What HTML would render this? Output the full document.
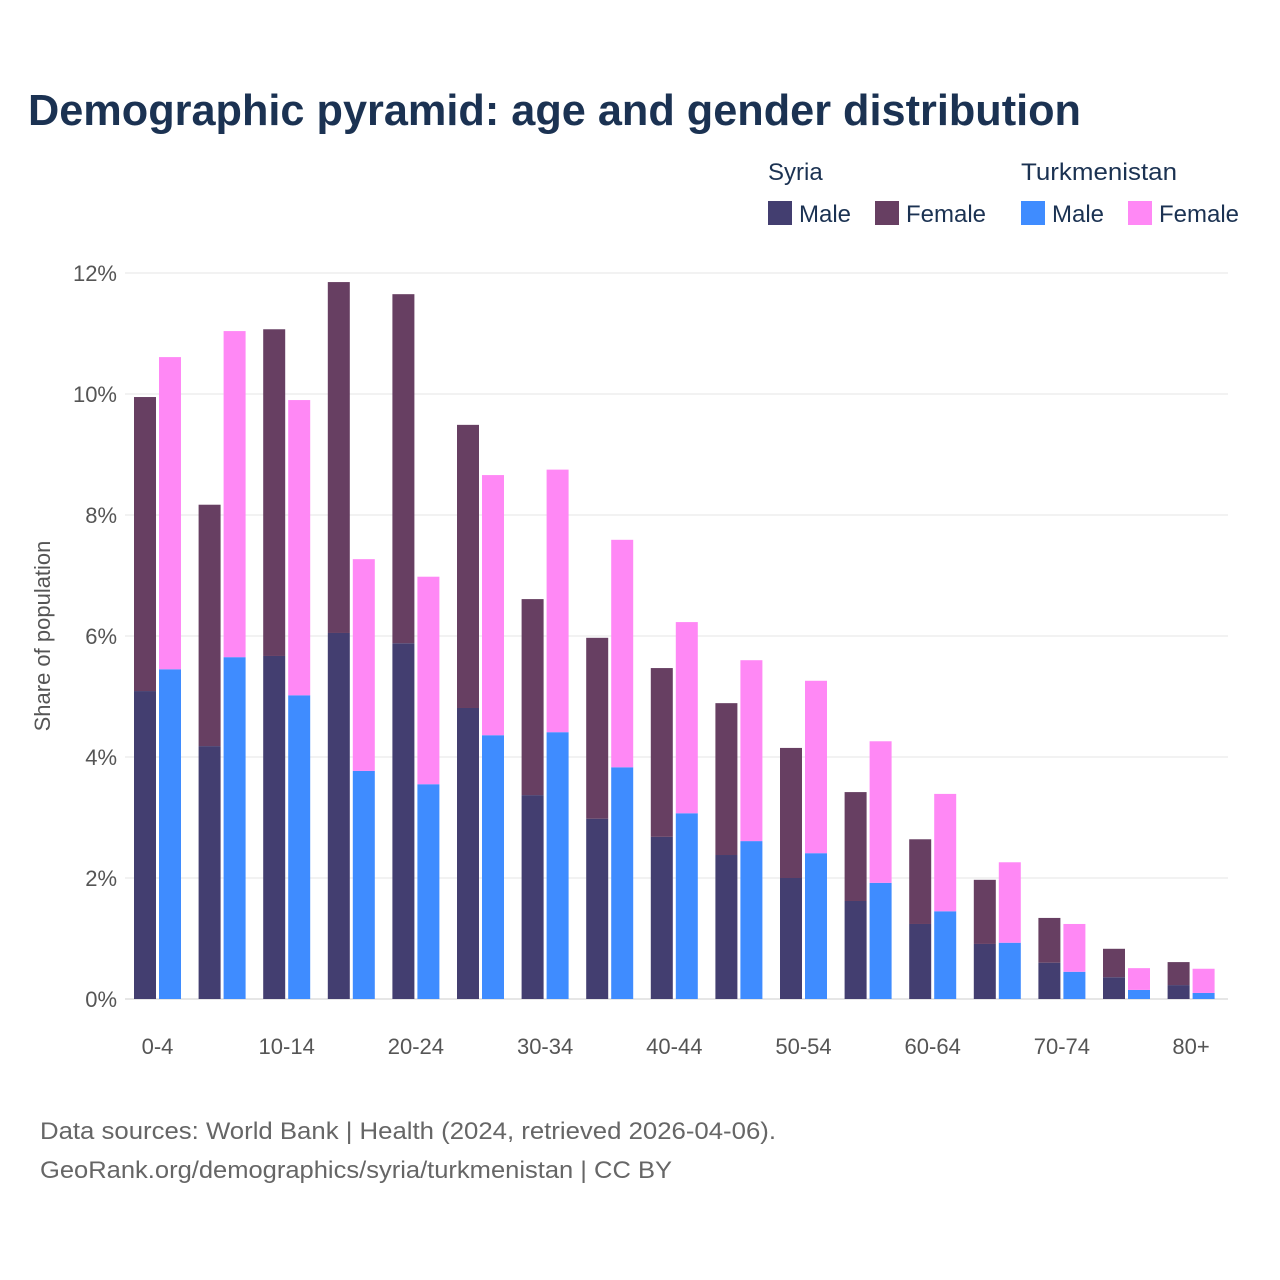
<!DOCTYPE html>
<html><head><meta charset="utf-8"><style>
body{margin:0;background:#fff;font-family:"Liberation Sans",sans-serif}
svg{display:block}
</style></head><body>
<svg id="c" width="1280" height="1280" viewBox="0 0 1280 1280">
<text x="28" y="125" font-size="44" font-weight="bold" fill="#1b3252" textLength="1053" lengthAdjust="spacingAndGlyphs">Demographic pyramid: age and gender distribution</text>
<g font-size="24" fill="#1b3252">
<text x="768" y="180">Syria</text>
<text x="1021" y="180" textLength="156" lengthAdjust="spacingAndGlyphs">Turkmenistan</text>
<rect x="768" y="201" width="24" height="24" fill="#433e70"/>
<text x="799" y="222">Male</text>
<rect x="875" y="201" width="24" height="24" fill="#673f62"/>
<text x="906" y="222">Female</text>
<rect x="1021" y="201" width="24" height="24" fill="#3f8cff"/>
<text x="1052" y="222">Male</text>
<rect x="1128" y="201" width="24" height="24" fill="#ff88f5"/>
<text x="1159" y="222">Female</text>
</g>
<text transform="translate(50,636) rotate(-90)" text-anchor="middle" font-size="22" fill="#555">Share of population</text>
<g id="grid"></g><g id="bars"></g><g id="xt"></g>
<text x="40" y="1139" font-size="24" fill="#666" textLength="736" lengthAdjust="spacingAndGlyphs">Data sources: World Bank | Health (2024, retrieved 2026-04-06).</text>
<text x="40" y="1178" font-size="24" fill="#666" textLength="632" lengthAdjust="spacingAndGlyphs">GeoRank.org/demographics/syria/turkmenistan | CC BY</text>
</svg>
<script>
const categories=["0-4","5-9","10-14","15-19","20-24","25-29","30-34","35-39","40-44","45-49","50-54","55-59","60-64","65-69","70-74","75-79","80+"];
const syriaMale=[5.09,4.18,5.67,6.05,5.88,4.81,3.37,2.98,2.68,2.38,2.0,1.62,1.24,0.91,0.6,0.36,0.23];
const syriaTotal=[9.95,8.17,11.07,11.85,11.65,9.49,6.61,5.97,5.47,4.89,4.15,3.42,2.64,1.97,1.34,0.83,0.61];
const turkMale=[5.45,5.65,5.02,3.77,3.55,4.36,4.41,3.83,3.07,2.61,2.41,1.92,1.45,0.93,0.45,0.15,0.1];
const turkTotal=[10.61,11.04,9.9,7.27,6.98,8.66,8.75,7.59,6.23,5.6,5.26,4.26,3.39,2.26,1.24,0.51,0.5];
const yTicks=[0,2,4,6,8,10,12];
const NS="http://www.w3.org/2000/svg";
const y=v=>999-v*60.5;
const xc=i=>157.5+i*64.6;
function mk(p,t,a){const e=document.createElementNS(NS,t);for(const k in a)e.setAttribute(k,a[k]);document.getElementById(p).appendChild(e);return e;}
yTicks.forEach(t=>{
 const l=mk('grid','line',{x1:125,x2:1228,y1:y(t),y2:y(t),stroke:t===0?'#ccc':'#e6e6e6','stroke-width':1});
 
 
 const tx=mk('grid','text',{x:117,y:y(t)+8,'text-anchor':'end','font-size':22,fill:'#555'});
 tx.textContent=t+'%';
 
 
});
function bar(x,v0,v1,fill,name){
 const r=mk('bars','rect',{x:x,y:y(v1),width:22,height:y(v0)-y(v1),fill:fill});
 
 
}
categories.forEach((c,i)=>{
 const x=xc(i);
 bar(x-23.5,0,syriaMale[i],'#433e70','bar-syria-male-'+c);
 bar(x-23.5,syriaMale[i],syriaTotal[i],'#673f62','bar-syria-female-'+c);
 bar(x+1.5,0,turkMale[i],'#3f8cff','bar-turkmenistan-male-'+c);
 bar(x+1.5,turkMale[i],turkTotal[i],'#ff88f5','bar-turkmenistan-female-'+c);
 if(i%2===0){
  const t=mk('xt','text',{x:x,y:1054,'text-anchor':'middle','font-size':22,fill:'#555'});
  t.textContent=c;
  
  
 }
});
</script>
</body></html>
